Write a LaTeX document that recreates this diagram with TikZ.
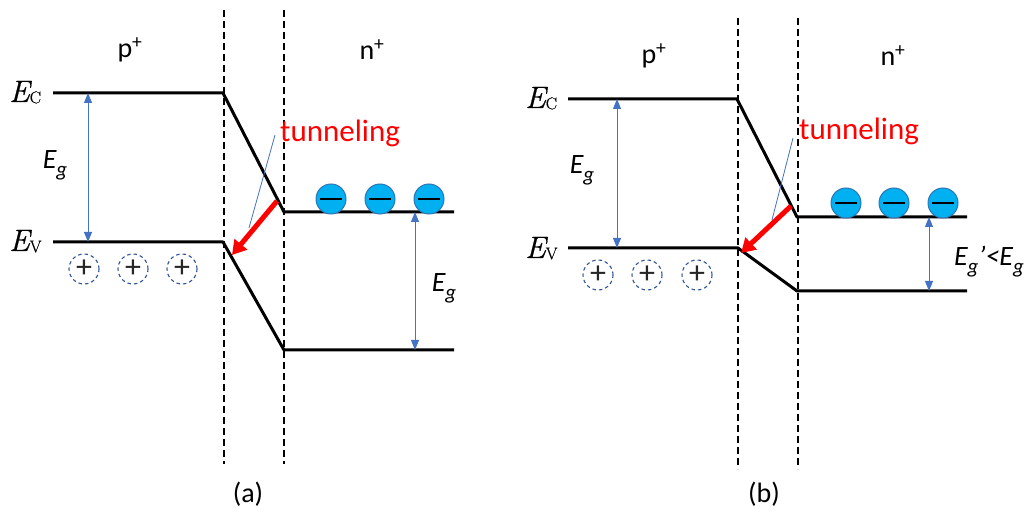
\documentclass[tikz,border=0pt]{standalone}
\usepackage{fontspec}
\newfontfamily\calib{Carlito}
\newfontfamily\lmr[FakeBold=0.6]{Latin Modern Roman}
\usetikzlibrary{arrows.meta}
\definecolor{arrblue}{HTML}{4472C4}
\definecolor{holeblue}{HTML}{2F5597}
\definecolor{ecyan}{HTML}{00B0F0}
\definecolor{eborder}{HTML}{2E75B6}
\newcommand{\gsub}{\raisebox{-0.28em}{\fontsize{21}{21}\selectfont g}}
\newcommand{\bandsub}[1]{\raisebox{-0.04em}{\fontsize{17}{17}\selectfont\upshape #1}}
\begin{document}
\begin{tikzpicture}[x=1pt,y=-1pt,
  band/.style={line width=3pt, line join=round},
  junction/.style={line width=1.8pt, dash pattern=on 7pt off 4pt},
  gaparrow/.style={arrblue, line width=0.9pt, {Triangle[length=10pt,width=8pt]}-{Triangle[length=10pt,width=8pt]}},
  hole/.style={circle, draw=holeblue, dash pattern=on 3.5pt off 3pt, line width=1.1pt, minimum size=30pt, inner sep=0pt, font=\calib\fontsize{32}{32}\selectfont, text=black!85},
  electron/.style={circle, draw=eborder, fill=ecyan, line width=1pt, minimum size=30pt, inner sep=0pt,
    path picture={\draw[black,line width=2.5pt] ([xshift=-11pt]path picture bounding box.center) -- ([xshift=11pt]path picture bounding box.center);}},
  tunnel/.style={red, line width=5pt, -{Triangle[length=14pt,width=16pt]}},
  pointer/.style={arrblue, line width=0.8pt},
  sanslabel/.style={font=\calib\fontsize{28}{30}\selectfont, inner sep=0pt},
  gaplabel/.style={font=\calib\itshape\fontsize{28}{30}\selectfont, inner sep=0pt},
  tunneltext/.style={font=\calib\fontsize{31}{33}\selectfont, text=red, inner sep=0pt, anchor=base west},
  mathlabel/.style={font=\lmr\itshape\fontsize{31}{33}\selectfont, inner sep=0pt, anchor=base west},
]
\useasboundingbox (0,0) rectangle (1029,521);

% ================= panel (a) =================
\coordinate (aECl) at (53,93);
\coordinate (aECj) at (223,93);
\coordinate (aECn) at (284,212);
\coordinate (aECr) at (454,212);
\coordinate (aEVl) at (53,242);
\coordinate (aEVj) at (223,242);
\coordinate (aEVn) at (284,350);
\coordinate (aEVr) at (454,350);
\coordinate (aD1t) at (224,10);
\coordinate (aD1b) at (224,464);
\coordinate (aD2t) at (284,10);
\coordinate (aD2b) at (284,464);

\draw[junction] (aD1t) -- (aD1b);
\draw[junction] (aD2t) -- (aD2b);
\draw[band] (aECl) -- (aECj) -- (aECn) -- (aECr);
\draw[band] (aEVl) -- (aEVj) -- (aEVn) -- (aEVr);

\node[mathlabel] (aEC) at (9,102) {E\bandsub{C}};
\node[mathlabel] (aEV) at (9,251) {E\bandsub{V}};
\node[sanslabel] (ap) at (130,50) {p\textsuperscript{+}};
\node[sanslabel] (an) at (372,50) {n\textsuperscript{+}};

\coordinate (aGt) at (88,93);
\coordinate (aGb) at (88,242);
\draw[gaparrow] (aGt) -- (aGb);
\node[gaplabel] (aEgL) at (55,165) {E\gsub};

\coordinate (aG2t) at (415,212);
\coordinate (aG2b) at (415,350);
\draw[gaparrow] (aG2t) -- (aG2b);
\node[gaplabel] (aEgR) at (444,288) {E\gsub};

\node[hole] (ah1) at (84,269) {+};
\node[hole] (ah2) at (133,269) {+};
\node[hole] (ah3) at (182,269) {+};

\node[electron] (ae1) at (331,199) {};
\node[electron] (ae2) at (380,199) {};
\node[electron] (ae3) at (429,199) {};

\node[tunneltext] (atun) at (280,142) {tunneling};
\coordinate (aPs) at (275,135);
\coordinate (aPe) at (249,228);
\draw[pointer] (aPs) -- (aPe);
\coordinate (aTs) at (277,201);
\coordinate (aTe) at (232,255);
\draw[tunnel] (aTs) -- (aTe);

\node[sanslabel] (alab) at (248,494) {(a)};

% ================= panel (b) =================
\coordinate (bECl) at (568,99);
\coordinate (bECj) at (737,99);
\coordinate (bECn) at (797,217);
\coordinate (bECr) at (967,217);
\coordinate (bEVl) at (568,248);
\coordinate (bEVj) at (738,248);
\coordinate (bEVn) at (797,291);
\coordinate (bEVr) at (967,291);
\coordinate (bD1t) at (738,18);
\coordinate (bD1b) at (738,469);
\coordinate (bD2t) at (798,18);
\coordinate (bD2b) at (798,469);

\draw[junction] (bD1t) -- (bD1b);
\draw[junction] (bD2t) -- (bD2b);
\draw[band] (bECl) -- (bECj) -- (bECn) -- (bECr);
\draw[band] (bEVl) -- (bEVj) -- (bEVn) -- (bEVr);

\node[mathlabel] (bEC) at (525,108) {E\bandsub{C}};
\node[mathlabel] (bEV) at (525,258) {E\bandsub{V}};
\node[sanslabel] (bp) at (654,56) {p\textsuperscript{+}};
\node[sanslabel] (bn) at (893,56) {n\textsuperscript{+}};

\coordinate (bGt) at (617,99);
\coordinate (bGb) at (617,248);
\draw[gaparrow] (bGt) -- (bGb);
\node[gaplabel] (bEgL) at (582,170) {E\gsub};

\coordinate (bG2t) at (929,217);
\coordinate (bG2b) at (929,291);
\draw[gaparrow] (bG2t) -- (bG2b);
\node[gaplabel] (bEgR) at (989,262) {E\gsub’<E\gsub};

\node[hole] (bh1) at (598,275) {+};
\node[hole] (bh2) at (647,275) {+};
\node[hole] (bh3) at (697,275) {+};

\node[electron] (be1) at (846,203) {};
\node[electron] (be2) at (894,203) {};
\node[electron] (be3) at (943,203) {};

\node[tunneltext] (btun) at (799,140) {tunneling};
\coordinate (bPs) at (793,138);
\coordinate (bPe) at (772,220);
\draw[pointer] (bPs) -- (bPe);
\coordinate (bTs) at (791,206);
\coordinate (bTe) at (741,253);
\draw[tunnel] (bTs) -- (bTe);

\node[sanslabel] (blab) at (764,494) {(b)};
\end{tikzpicture}
\end{document}
